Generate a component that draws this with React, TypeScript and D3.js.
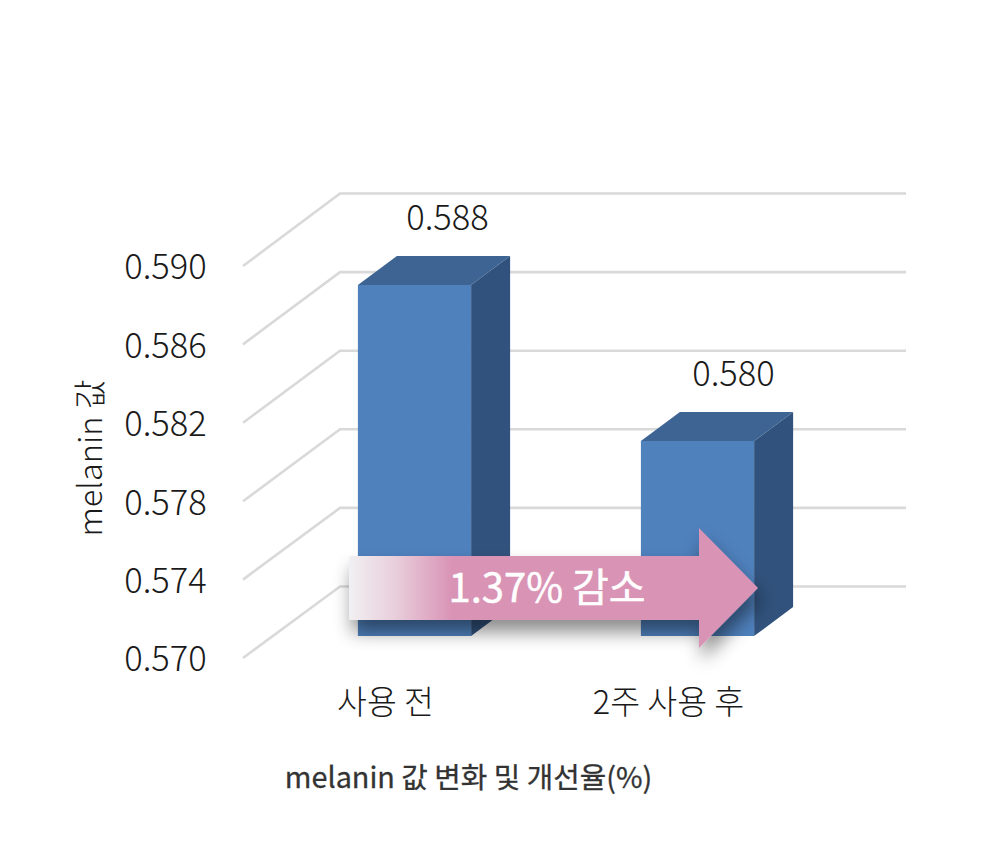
import React from "react";
import * as d3 from "d3";

const categories = ["사용 전", "2주 사용 후"];
const values = [0.588, 0.58];
const valueLabels = ["0.588", "0.580"];
const ticks = [0.57, 0.574, 0.578, 0.582, 0.586, 0.59];
const tickLabels = ["0.570", "0.574", "0.578", "0.582", "0.586", "0.590"];
const yAxisTitle = "melanin 값";
const chartTitle = "melanin 값 변화 및 개선율(%)";
const arrowLabel = "1.37% 감소";

const FONT = "'Noto Sans CJK KR', 'Noto Sans', sans-serif";

export default function App() {
  const x = d3.scaleBand<string>().domain(categories).range([273, 839]).paddingInner(0.6).paddingOuter(0.3);
  const yFront = d3.scaleLinear().domain([0.57, 0.59]).range([658, 266]);
  const yBack = d3.scaleLinear().domain([0.57, 0.59]).range([586.5, 193.5]);
  const yBar = d3.scaleLinear().domain([0.57, 0.59]).range([636, 246]);
  const dx = 39;
  const dy = 29;
  const w = x.bandwidth();
  return (
    <svg width={1000} height={843} style={{ position: "absolute", left: 0, top: 0, background: "#fff" }} fontFamily={FONT}>
      <defs>
        <linearGradient id="fade" gradientUnits="userSpaceOnUse" x1={349} x2={452} y1={0} y2={0}>
          <stop offset="0" stopColor="#f1f0f2" />
          <stop offset="0.45" stopColor="#e8cedb" />
          <stop offset="1" stopColor="#d993b5" />
        </linearGradient>
        <filter id="shadow" x="-10%" y="-20%" width="125%" height="160%">
          <feDropShadow dx={3} dy={12} stdDeviation={9} floodColor="#000" floodOpacity={0.45} />
        </filter>
      </defs>
      {ticks.map((t, i) => (
        <g key={t}>
          <polyline
            points={`243,${yFront(t)} 340,${yBack(t)} 906,${yBack(t)}`}
            fill="none"
            stroke="#d9d9d9"
            strokeWidth={2.6}
          />
          <text x={165.5} y={yFront(t) + 1} dy="0.36em" textAnchor="middle" fontSize={34.5} fontWeight={300} fill="#1a1a1a">
            {tickLabels[i]}
          </text>
        </g>
      ))}
      {categories.map((c, i) => {
        const x0 = x(c)!;
        const x1 = x0 + w;
        const top = yBar(values[i]);
        const bot = yBar(0.57);
        return (
          <g key={c}>
            <polygon points={`${x1},${top} ${x1 + dx},${top - dy} ${x1 + dx},${bot - dy} ${x1},${bot}`} fill="#31527c" />
            <polygon points={`${x0},${top} ${x0 + dx},${top - dy} ${x1 + dx},${top - dy} ${x1},${top}`} fill="#3d6492" />
            <rect x={x0} y={top} width={w} height={bot - top} fill="#4f81bd" />
            <text x={x0 + w / 2 + 33 + i * 3} y={top - 67} dy="0.36em" textAnchor="middle" fontSize={34.5} fontWeight={300} fill="#1a1a1a">
              {valueLabels[i]}
            </text>
            <text x={x0 + w / 2 - 29} y={702} dy="0.36em" textAnchor="middle" fontSize={32.5} fontWeight={300} fill="#1a1a1a">
              {c}
            </text>
          </g>
        );
      })}
      <polygon
        points="349,556 699,556 699,528 758,588 699,648 699,620 349,620"
        fill="url(#fade)"
        filter="url(#shadow)"
      />
      <text x={547} y={588} dy="0.36em" textAnchor="middle" fontSize={40} fontWeight={400} fill="#fff" stroke="#fff" strokeWidth={0.5}>
        {arrowLabel}
      </text>
      <text transform="translate(90,458) rotate(-90)" dy="0.36em" textAnchor="middle" fontSize={32.5} fontWeight={300} fill="#1a1a1a">
        {yAxisTitle}
      </text>
      <text x={468.5} y={778} dy="0.36em" textAnchor="middle" fontSize={28.8} fontWeight={400} fill="#333" stroke="#333" strokeWidth={0.3}>
        {chartTitle}
      </text>
    </svg>
  );
}
